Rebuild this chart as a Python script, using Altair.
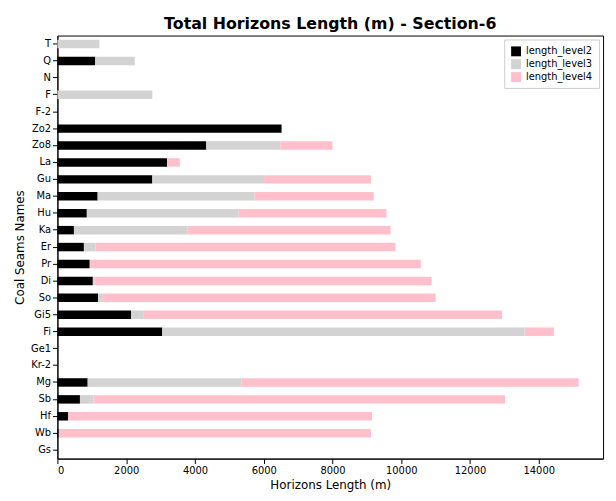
import altair as alt
import pandas as pd

# Seam names, top to bottom as drawn.
seams = ["T", "Q", "N", "F", "F-2", "Zo2", "Zo8", "La", "Gu", "Ma", "Hu", "Ka", "Er",
         "Pr", "Di", "So", "Gi5", "Fi", "Ge1", "Kr-2", "Mg", "Sb", "Hf", "Wb", "Gs"]
length_level2 = [0, 1100, 0, 0, 0, 6520, 4330, 3190, 2760, 1170, 855, 480, 770,
                 940, 1030, 1180, 2140, 3050, 0, 0, 880, 655, 310, 40, 0]
length_level3 = [1220, 1150, 0, 2760, 0, 0, 2150, 0, 3250, 4560, 4415, 3310, 340,
                 0, 50, 120, 370, 10540, 0, 0, 4480, 395, 0, 0, 0]
length_level4 = [0, 0, 0, 0, 0, 0, 1520, 370, 3110, 3470, 4300, 5900, 8720,
                 9630, 9800, 9700, 10420, 850, 0, 0, 9800, 11970, 8840, 9080, 0]

levels = ["length_level2", "length_level3", "length_level4"]
colors = ["black", "lightgray", "pink"]

rows = []
for i, s in enumerate(seams):
    for k, vals in enumerate([length_level2, length_level3, length_level4]):
        rows.append({"seam": s, "level": levels[k], "value": vals[i], "order": k})
df = pd.DataFrame(rows)

chart = alt.Chart(df).mark_bar().encode(
    y=alt.Y("seam:N", sort=seams, title="Coal Seams Names",
            scale=alt.Scale(paddingInner=0.5, paddingOuter=0.25)),
    x=alt.X("value:Q", stack="zero", title="Horizons Length (m)",
            scale=alt.Scale(domain=[0, 15870], nice=False),
            axis=alt.Axis(values=list(range(0, 15000, 2000)), format="d", grid=False)),
    color=alt.Color("level:N", scale=alt.Scale(domain=levels, range=colors),
                    legend=alt.Legend(title=None, orient="top-right", symbolType="square",
                                      fillColor="white", strokeColor="#ccc", padding=6,
                                      offset=4)),
    order=alt.Order("order:Q"),
).properties(
    width=552, height=428,
    title=alt.TitleParams("Total Horizons Length (m) - Section-6", fontSize=16,
                          fontWeight="bold", font="DejaVu Sans", offset=4),
).configure_axis(
    labelFont="DejaVu Sans", titleFont="DejaVu Sans", labelFontSize=10,
    titleFontSize=12, titleFontWeight="normal", domainColor="black",
    tickColor="black", labelColor="black",
).configure_legend(labelFont="DejaVu Sans", labelFontSize=10
).configure_view(stroke="black")

chart.save("out.html", embed_options={"renderer": "svg", "actions": False})
